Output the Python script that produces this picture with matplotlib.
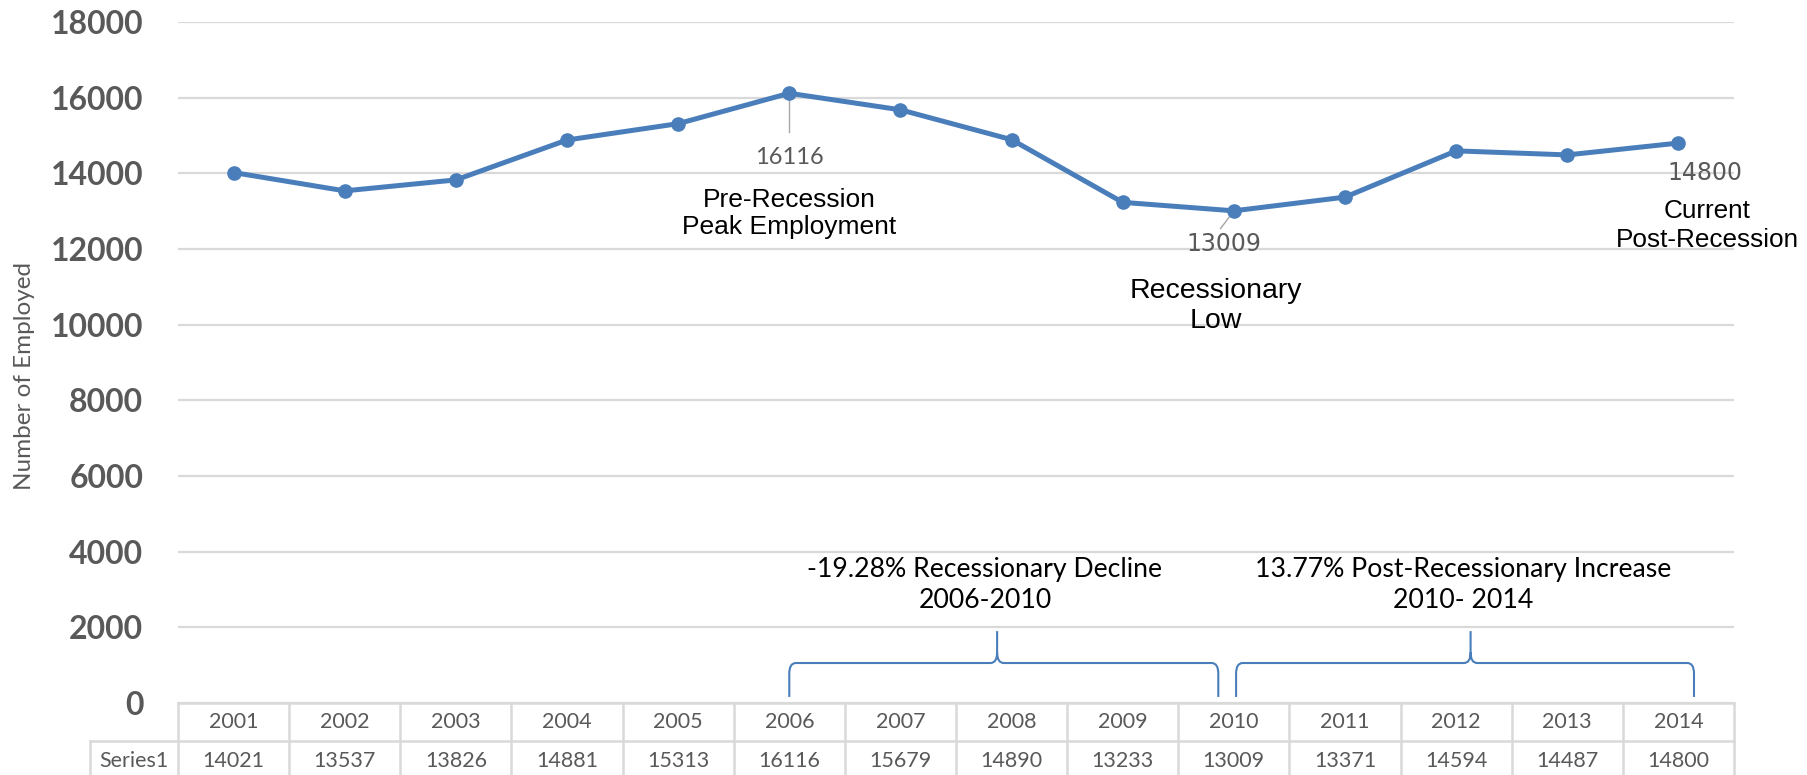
import numpy as np
import matplotlib.pyplot as plt
from matplotlib.path import Path
from matplotlib.patches import PathPatch
from matplotlib.transforms import blended_transform_factory

years = [2001, 2002, 2003, 2004, 2005, 2006, 2007, 2008, 2009, 2010, 2011, 2012, 2013, 2014]
employed = [14021, 13537, 13826, 14881, 15313, 16116, 15679, 14890, 13233, 13009, 13371, 14594, 14487, 14800]
series_name = "Series1"

LINE = '#4a7ebb'
GRAY = '#595959'
GRID = '#d9d9d9'
W, H = 1807, 775

fig = plt.figure(figsize=(W / 100, H / 100), dpi=100)
ax = fig.add_axes([178 / W, 1 - 703 / H, (1734 - 178) / W, (703 - 22) / H])

x = np.arange(len(years))
ax.plot(x, employed, color=LINE, lw=3.6, marker='o', ms=9.5, zorder=3)

ax.set_xlim(-0.5, len(years) - 0.5)
ax.set_ylim(0, 18000)
ax.set_yticks(np.arange(0, 18001, 2000))
ax.set_xticks([])
ax.grid(axis='y', color=GRID, lw=1.6)
ax.set_axisbelow(True)
for s in ax.spines.values():
    s.set_visible(False)
ax.tick_params(axis='y', length=0, pad=25, labelsize=23, labelcolor=GRAY)
for lab in ax.get_yticklabels():
    lab.set_fontweight('bold')
    lab.set_family('Lato')
ax.set_ylabel("Number of Employed", fontsize=17.5, color=GRAY, family='Lato')
ax.yaxis.set_label_coords(-0.092, 0.48)

# data labels
i_peak = int(np.argmax(employed[:9]))
i_low = 9
i_now = len(years) - 1
ax.plot([i_peak, i_peak], [employed[i_peak], employed[i_peak] - 1030], color='#a6a6a6', lw=1, zorder=2)
ax.plot([i_low, i_low - 0.12], [employed[i_low], employed[i_low] - 470], color='#a6a6a6', lw=1, zorder=2)
lab_kw = dict(ha='center', va='center', fontsize=17, color=GRAY, family='Liberation Sans Narrow')
txt_kw = dict(ha='center', va='center', color='black', family='Liberation Sans', linespacing=1.2)
ax.text(i_peak, employed[i_peak] - 1700, f"{employed[i_peak]}", fontsize=17, color=GRAY,
        family='Lato', ha='center', va='center')
ax.text(i_peak, employed[i_peak] - 3180, "Pre-Recession\nPeak Employment", fontsize=19, **txt_kw)
ax.text(i_low - 0.09, employed[i_low] - 870, f"{employed[i_low]}", **lab_kw)
ax.text(i_low - 0.16, employed[i_low] - 2520, "Recessionary\nLow", fontsize=20.5, **txt_kw)
ax.text(i_now + 0.24, employed[i_now] - 800, f"{employed[i_now]}", **lab_kw)
ax.text(i_now + 0.26, employed[i_now] - 2180, "Current\nPost-Recession", fontsize=18.8,
        **{**txt_kw, 'linespacing': 1.3})

# braces
def brace(x0, x1, xt, yb=160, yh=1057, yt=1900, rx=0.06, ry=280):
    verts = [(x0, yb), (x0, yh - ry), (x0, yh), (x0 + rx, yh),
             (xt - rx, yh), (xt, yh), (xt, yh + ry), (xt, yt),
             (xt, yh + ry), (xt, yh), (xt + rx, yh),
             (x1 - rx, yh), (x1, yh), (x1, yh - ry), (x1, yb)]
    codes = [Path.MOVETO, Path.LINETO, Path.CURVE3, Path.CURVE3,
             Path.LINETO, Path.CURVE3, Path.CURVE3, Path.LINETO,
             Path.MOVETO, Path.CURVE3, Path.CURVE3,
             Path.LINETO, Path.CURVE3, Path.CURVE3, Path.LINETO]
    ax.add_patch(PathPatch(Path(verts, codes), fill=False, ec=LINE, lw=1.5, zorder=2))

brace(5.0, 8.86, 6.87)
brace(9.02, 13.14, 11.13)
ann_kw = dict(ha='center', va='center', fontsize=19.2, color='black', family='Lato', linespacing=1.3)
ax.text(6.76, 3115, "-19.28% Recessionary Decline\n2006-2010", **ann_kw)
ax.text(11.06, 3115, "13.77% Post-Recessionary Increase\n2010- 2014", **ann_kw)

# data table
tr = blended_transform_factory(ax.transData, fig.transFigure)
ff = lambda px: 1 - px / H
tkw = dict(transform=tr, color=GRID, lw=1.8, clip_on=False)
ax.plot([-0.5, len(years) - 0.5], [ff(703), ff(703)], **tkw)
ax.plot([-0.5 - 88 / 111, len(years) - 0.5], [ff(741), ff(741)], **tkw)
for k in range(len(years) + 1):
    ax.plot([k - 0.5, k - 0.5], [ff(703), ff(780)], **tkw)
ax.plot([-0.5 - 88 / 111] * 2, [ff(741), ff(780)], **tkw)
cell_kw = dict(transform=tr, ha='center', va='center', fontsize=15.5, color=GRAY, family='Lato', clip_on=False)
for i, (yr, v) in enumerate(zip(years, employed)):
    ax.text(i, ff(722), str(yr), **cell_kw)
    ax.text(i, ff(761), str(v), **cell_kw)
ax.text(-0.5 - 44 / 111, ff(761), series_name, **cell_kw)

fig.savefig('out.png', dpi=100)
